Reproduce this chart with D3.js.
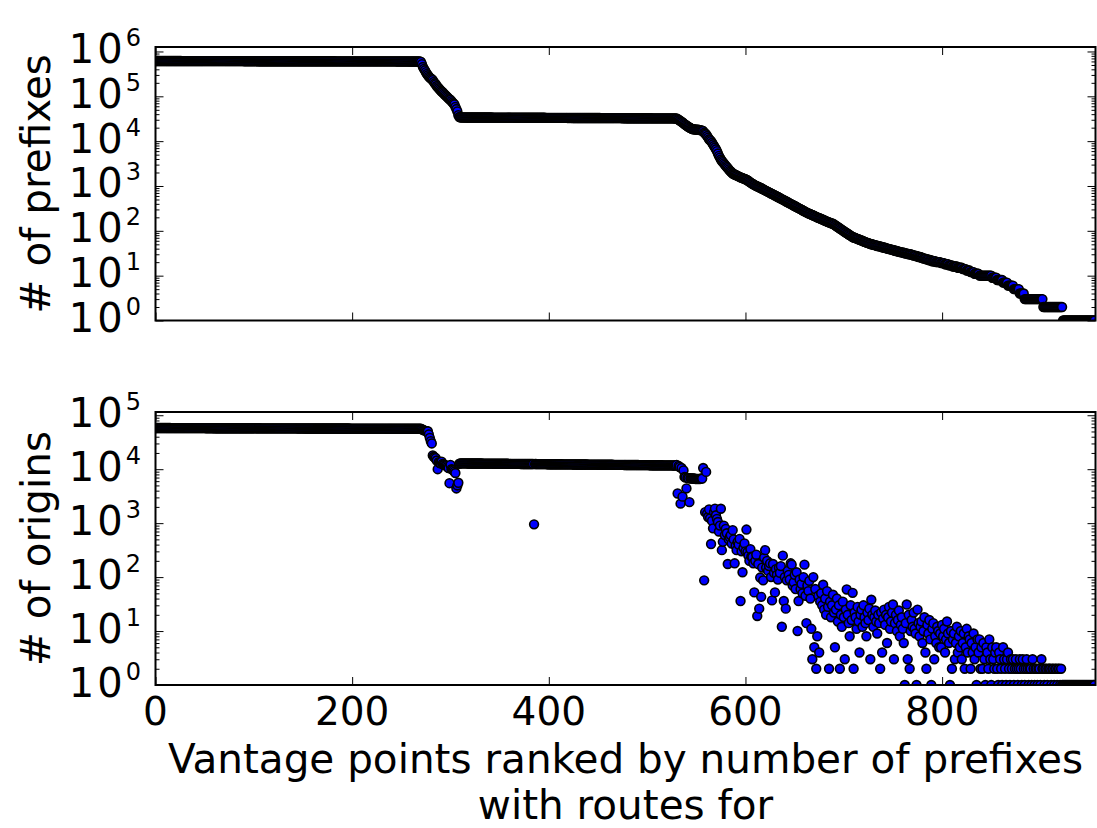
<!DOCTYPE html>
<html>
<head>
<meta charset="utf-8">
<script src="https://cdn.jsdelivr.net/npm/d3@7"></script>
<style>
  body { margin: 0; background: #fff; }
  text { font-family: "DejaVu Sans", sans-serif; fill: #000; }
</style>
</head>
<body>
<svg id="chart" width="1097" height="828"></svg>
<script>
// number of prefixes seen by each vantage point, in rank order
var prefixes = [
  612400,612380,612310,612260,612240,612150,612120,612040,612010,611930,
  611880,611850,611790,611720,611700,611640,611580,611550,611490,611420,
  611390,611330,611300,611240,611170,611150,611080,611040,610990,610920,
  610880,610850,610770,610740,610690,610630,610600,610520,610490,610430,
  610380,610340,610290,610230,610200,610130,610090,610040,609970,609930,
  609890,609820,609790,609730,609680,609640,609570,609540,609480,609430,
  609390,609330,609290,609220,609180,609140,609070,609030,608980,608920,
  608880,608830,608780,608720,608690,608630,608570,608540,608480,608430,
  608370,608340,608280,608230,608190,608130,608080,608040,607970,607930,
  607880,607820,607790,607730,607680,607630,607590,607530,607470,607440,
  607380,607330,607290,607220,607180,607130,607090,607020,606980,606930,
  606880,606830,606790,606720,606670,606640,606570,606530,606490,606420,
  606380,606330,606280,606230,606190,606120,606080,606030,605980,605930,
  605870,605840,605780,605730,605690,605620,605580,605530,605480,605440,
  605370,605330,605290,605220,605180,605130,605090,605020,604980,604930,
  604880,604830,604770,604730,604690,604620,604580,604530,604470,604430,
  604380,604320,604290,604230,604170,604130,604080,604030,603980,603920,
  603880,603830,603780,603720,603690,603630,603570,603530,603480,603420,
  603380,603330,603270,603230,603180,603120,603080,603030,602970,602930,
  602880,602820,602780,602730,602670,602630,602580,602520,602480,602430,
  602370,602330,602280,602220,602180,602130,602070,602030,601980,601920,
  601870,601830,601780,601720,601680,601620,601570,601530,601470,601420,
  601380,601320,601270,601230,601170,601120,601080,601020,600970,600930,
  600870,600820,600780,600720,600670,600630,600570,600520,600470,600420,
  600370,600320,600270,600220,600170,600130,600070,600020,599970,599920,
  599870,599820,599770,599720,599670,599620,599570,599520,599470,599420,
  599370,599320,599270,599220,599170,599100,599050,598960,598870,598700,
  586000,520000,450000,410000,380000,345000,316000,295000,275000,262000,
  251000,240000,229000,210000,195000,186000,170000,160000,151000,143000,
  135000,128000,123000,116000,110000,105000,100000,95000,90000,86000,
  83000,78000,73000,69000,66000,58000,52000,46000,38000,34500,
  33820,33810,33800,33790,33790,33780,33770,33760,33760,33750,
  33740,33730,33730,33720,33710,33700,33700,33690,33680,33670,
  33660,33660,33650,33640,33630,33630,33620,33610,33600,33590,
  33590,33580,33570,33560,33560,33550,33540,33530,33520,33520,
  33510,33500,33490,33490,33480,33470,33460,33450,33450,33440,
  33430,33420,33420,33410,33400,33390,33380,33380,33370,33360,
  33350,33350,33340,33330,33320,33310,33310,33300,33290,33280,
  33280,33270,33260,33250,33240,33240,33230,33220,33210,33210,
  33200,33190,33180,33170,33170,33160,33150,33140,33140,33130,
  33120,33110,33100,33100,33090,33080,33070,33070,33060,33050,
  33040,33030,33030,33020,33010,33000,33000,32990,32980,32970,
  32960,32960,32950,32940,32930,32930,32920,32910,32900,32890,
  32890,32880,32870,32860,32860,32850,32840,32830,32820,32820,
  32810,32800,32790,32790,32780,32770,32760,32750,32750,32740,
  32730,32720,32720,32710,32700,32690,32680,32680,32670,32660,
  32650,32650,32640,32630,32620,32610,32610,32600,32590,32580,
  32580,32570,32560,32550,32540,32540,32530,32520,32510,32510,
  32500,32490,32480,32470,32470,32460,32450,32440,32440,32430,
  32420,32410,32400,32400,32390,32380,32370,32370,32360,32350,
  32340,32330,32330,32320,32310,32300,32300,32290,32280,32270,
  32260,32260,32250,32240,32230,32230,32220,32210,32200,32190,
  32190,32180,32170,32160,32160,32150,32140,32130,32120,32100,
  32000,31000,30000,29000,28000,27000,26300,25000,24000,23000,
  22400,21500,20800,20200,19600,19000,18600,18400,18300,18200,
  18100,18000,17900,17800,17600,17400,17200,16800,15500,14800,
  14100,13000,12000,11000,10500,10000,9200,8500,7800,7200,
  6600,6000,5300,4700,4300,3900,3600,3400,3200,3000,
  2800,2650,2500,2350,2200,2100,2000,1900,
  1850,1800,1760,1720,1680,1640,1600,1560,1530,1500,1470,1440,
  1410,1380,1340,1290,1240,1200,1160,1120,1090,1060,1030,1000,
  980,960,935,910,890,865,845,820,800,780,760,740,720,700,680,665,650,635,615,600,
  584,568,553,538,524,510,496,483,470,457,445,433,421,410,399,388,378,
  368,358,348,339,330,321,312,304,296,288,280,272,265,258,251,245,240,
  235,230,225,220,215,210,205,200,196,192,188,184,
  180,176,172,168,164,160,157,154,151,148,146,144,
  139,134,130,125,121,117,113,109,105,102,98,95,92,89,86,83,80,78,75,73,
  71,70,69,67,66,65,63,62,61,60,58,57,56,55,54,53,52,51,50,50,49,48,48,47,
  46,46,45,45,44,43,43,42,42,41,40,40,39,39,38,38,
  37,37,36,36,35,35,34,34,33,33,33,32,32,31,31,
  31,30,30,30,29,29,28,28,28,27,27,26,26,26,25,25,24,
  24,24,23,23,23,22,22,22,21,21,21,21,20,20,20,20,20,
  19,19,19,19,18,18,18,18,17,17,17,17,16,16,16,16,16,15,15,15,
  15,15,14,14,14,14,13,13,13,13,12,12,12,12,11,11,11,11,11,10,10,10,10,10,
  10,10,10,10,10,10,10,10,9,9,9,9,9,
  8,8,8,8,8,8,7,7,7,7,7,
  6,6,6,6,6,6,5,5,5,5,
  5,5,4,4,4,4,4,
  3,3,3,3,3,3,3,3,3,3,3,3,3,3,3,3,3,3,3,
  2,2,2,2,2,2,2,2,2,2,2,2,2,2,2,2,2,2,2,2,
  1,1,1,1,1,1,1,1,1,1,1,1,1,1,1,1,1,1,1,1,1,1,1,1,1,1,1,1,1,1,1,1,1
];

// number of origin ASes seen by the same vantage points, same order
var origins = [
  57920,57910,57900,57900,57890,57880,57880,57870,57860,57860,
  57850,57840,57840,57830,57820,57820,57810,57800,57800,57790,
  57780,57780,57770,57760,57750,57750,57740,57730,57730,57720,
  57710,57710,57700,57690,57690,57680,57670,57670,57660,57650,
  57650,57640,57630,57630,57620,57610,57610,57600,57590,57590,
  57580,57570,57570,57560,57550,57550,57540,57530,57530,57520,
  57510,57510,57500,57490,57490,57480,57470,57470,57460,57450,
  57450,57440,57430,57430,57420,57410,57410,57400,57390,57390,
  57380,57370,57370,57360,57350,57350,57340,57330,57330,57320,
  57310,57310,57300,57290,57290,57280,57270,57270,57260,57250,
  57250,57240,57230,57230,57220,57210,57210,57200,57190,57190,
  57180,57170,57170,57160,57150,57150,57140,57130,57130,57120,
  57110,57110,57100,57090,57090,57080,57070,57070,57060,57050,
  57050,57040,57030,57030,57020,57010,57010,57000,56990,56990,
  56980,56970,56970,56960,56950,56950,56940,56930,56930,56920,
  56910,56910,56900,56890,56890,56880,56870,56870,56860,56850,
  56850,56840,56830,56830,56820,56810,56810,56800,56790,56790,
  56780,56770,56770,56760,56750,56750,56740,56730,56730,56720,
  56710,56710,56700,56690,56690,56680,56670,56670,56660,56650,
  56650,56640,56630,56630,56620,56610,56610,56600,56590,56590,
  56580,56570,56570,56560,56550,56550,56540,56530,56530,56520,
  56510,56510,56500,56490,56490,56480,56470,56470,56460,56450,
  56450,56440,56430,56430,56420,56410,56410,56400,56390,56390,
  56380,56370,56370,56360,56350,56350,56340,56330,56330,56320,
  56310,56310,56300,56290,56290,56280,56270,56270,56260,56250,
  56250,56240,56230,56230,56220,56210,56210,56200,56190,56190,
  56180,56170,56170,56160,56150,56150,56140,56130,56130,56120,
  56000,55000,53500,52500,51800,51200,50800,50500,44000,38000,
  33000,30000,18000,17000,16500,16000,14500,10000,13500,13000,
  12800,13800,12500,12200,12000,11800,11500,11000,10500,5500,
  12000,10000,9800,9500,9000,8500,4400,5000,5600,12600,
  12820,12810,12810,12800,12800,12790,12790,12780,12780,12770,
  12770,12760,12760,12750,12750,12740,12740,12730,12730,12720,
  12720,12710,12710,12700,12700,12690,12690,12680,12680,12670,
  12670,12660,12660,12650,12650,12640,12640,12630,12630,12620,
  12620,12610,12610,12600,12600,12590,12590,12580,12580,12570,
  12570,12560,12560,12550,12550,12540,12540,12530,12530,12520,
  12520,12510,12510,12500,12500,12490,12490,12480,12480,12470,
  12470,12460,12460,12450,12450,950,12440,12440,12430,12430,
  12420,12420,12410,12410,12400,12400,12390,12390,12380,12380,
  12370,12370,12360,12360,12350,12350,12340,12340,12330,12330,
  12320,12320,12310,12310,12300,12300,12290,12290,12280,12280,
  12270,12270,12260,12260,12250,12250,12240,12240,12230,12230,
  12220,12220,12210,12210,12200,12200,12190,12190,12180,12180,
  12170,12170,12160,12160,12150,12150,12140,12140,12130,12130,
  12120,12120,12110,12110,12100,12100,12090,12090,12080,12080,
  12070,12070,12060,12060,12050,12050,12040,12040,12030,12030,
  12020,12020,12010,12010,12000,12000,11990,11990,11980,11980,
  11970,11970,11960,11960,11950,11950,11940,11940,11930,11930,
  11920,11920,11910,11910,11900,11900,11890,11890,11880,11880,
  11870,11870,11860,11860,11850,11850,11840,11840,11830,11830,
  11820,11820,11810,11810,11800,11800,11790,11790,11780,11780,
  11770,11770,11760,11760,11750,11750,11740,11740,11730,11720,
  12000,3550,11500,11000,2300,10500,3100,9500,7200,7000,
  4400,6900,6800,2450,6800,6700,6700,6700,6700,6600,
  6600,6600,6600,6600,6600,6700,6700,10500,87,1600,
  8900,
  1500,1300,1800,1230,410,1100,800,1600,1860,1400,
  1200,1050,700,900,1850,316,450,900,600,780,
  650,175,500,550,600,420,740,500,180,380,
  316,450,400,510,36,300,123,350,420,300,
  760,290,250,200,330,240,235,180,52,200,
  260,19,175,26,98,43,150,87,230,316,
  150,200,130,160,180,100,37,175,120,52,
  140,110,90,150,120,160,12,250,36,100,
  26,87,130,110,90,180,170,70,80,110,
  60,123,10,36,90,60,75,50,100,170,
  45,14,70,55,85,40,11,3,100,5,
  60,2,8,45,4,35,50,30,72,25,
  40,20,55,28,2,35,18,30,47,22,
  5,25,40,15,30,2,20,12,35,18,
  3,25,59,20,14,8,30,16,51,2,
  22,18,11,28,15,4,20,25,12,30,
  18,14,8,22,16,26,3,38,20,12,
  18,24,15,9,20,14,2,22,4,17,
  25,13,20,6,18,28,11,15,22,31,
  3,14,20,10,16,24,8,13,18,11,
  6,1,14,31,3,20,2,10,16,12,
  22,11,9,1,25,14,8,12,15,6,
  10,18,4,2,13,9,16,7,1,11,
  14,3,8,6,12,10,5,9,5,13,
  8,11,4,7,15,9,6,1,10,2,
  7,9,3,6,12,4,8,5,10,3,
  6,9,2,5,11,4,8,7,2,6,
  4,9,3,5,1,7,4,7,2,5,
  2,6,3,1,5,4,2,7,3,1,
  5,3,2,4,5,2,1,4,3,2,
  1,5,3,2,1,3,4,2,1,3,
  2,3,1,2,3,2,1,2,3,2,
  1,3,2,1,2,3,2,1,2,2,
  1,3,2,1,2,2,1,2,2,1,
  3,2,2,1,2,2,1,2,2,2,
  1,2,2,1,2,2,1,2,2,1,
  2,1,1,1,1,1,1,1,1,1,
  1,1,1,1,1,1,1,1,1,1,
  1,1,1,1,1,1,1,1,1,1,
  1,1,1,1,1
];

var xTicks = [0, 200, 400, 600, 800];
var xMax = 956;
var topExps = [0, 1, 2, 3, 4, 5, 6];
var bottomExps = [0, 1, 2, 3, 4, 5];
var yLabels = ["# of prefixes", "# of origins"];
var xLabelLines = ["Vantage points ranked by number of prefixes", "with routes for"];

var svg = d3.select("#chart");
var left = 155.5, right = 1095.5;
var x = d3.scaleLinear().domain([0, xMax]).range([left, right]);

var panels = [
  {top: 47, bottom: 320.5, yMax: Math.pow(10, 6.1), data: prefixes, exps: topExps, label: yLabels[0], showX: false},
  {top: 412, bottom: 685, yMax: Math.pow(10, 5.06), data: origins, exps: bottomExps, label: yLabels[1], showX: true}
];

panels.forEach(function(p, pi){
  var y = d3.scaleLog().domain([1, p.yMax]).range([p.bottom, p.top]);
  var g = svg.append("g");

  var majors = p.exps.map(function(e){ return Math.pow(10, e); });
  var minors = [];
  p.exps.forEach(function(e){
    for (var m = 2; m < 10; m++) {
      var v = m * Math.pow(10, e);
      if (v <= p.yMax) minors.push(v);
    }
  });

  // clip so points at the edges get cut like in the original
  g.append("clipPath").attr("id", "clip" + pi)
    .append("rect")
    .attr("x", left).attr("y", p.top)
    .attr("width", right - left).attr("height", p.bottom - p.top);

  g.append("g").attr("clip-path", "url(#clip" + pi + ")")
    .selectAll("circle")
    .data(p.data)
    .enter()
    .append("circle")
    .attr("cx", function(d, i){ return x(i); })
    .attr("cy", function(d){ return y(d); })
    .attr("r", 4.4)
    .style("fill", "#0000ff")
    .style("stroke", "#000")
    .style("stroke-width", 1.6);

  // ticks point inward on all four sides
  function ticks(axis, tx, ty) {
    var a = g.append("g").attr("transform", "translate(" + tx + "," + ty + ")").call(axis);
    a.select(".domain").remove();
    a.selectAll("line").style("stroke", "#000").style("stroke-width", 1);
    a.selectAll("text").remove();
  }
  ticks(d3.axisLeft(y).tickValues(majors).tickSize(-8).tickSizeOuter(0), left, 0);
  ticks(d3.axisLeft(y).tickValues(minors).tickSize(-4).tickSizeOuter(0), left, 0);
  ticks(d3.axisRight(y).tickValues(majors).tickSize(-8).tickSizeOuter(0), right, 0);
  ticks(d3.axisRight(y).tickValues(minors).tickSize(-4).tickSizeOuter(0), right, 0);
  ticks(d3.axisBottom(x).tickValues(xTicks).tickSize(-8).tickSizeOuter(0), 0, p.bottom);
  ticks(d3.axisTop(x).tickValues(xTicks).tickSize(-8).tickSizeOuter(0), 0, p.top);

  g.append("rect")
    .attr("x", left).attr("y", p.top)
    .attr("width", right - left).attr("height", p.bottom - p.top)
    .style("fill", "none").style("stroke", "#000").style("stroke-width", 2);

  // 10^n tick labels
  g.selectAll(".ylab").data(majors).enter()
    .append("text")
    .attr("class", "ylab")
    .attr("x", 141)
    .attr("y", function(d){ return y(d) + 11.5; })
    .attr("text-anchor", "end")
    .style("font-size", "40px")
    .each(function(d){
      var t = d3.select(this);
      t.append("tspan").style("letter-spacing", "3px").text("10");
      t.append("tspan").attr("dy", -17).style("font-size", "24px").text(Math.round(Math.log10(d)));
    });

  g.append("text")
    .attr("transform", "translate(50," + ((p.top + p.bottom) / 2) + ") rotate(-90)")
    .attr("text-anchor", "middle")
    .style("font-size", "40.5px")
    .text(p.label);

  if (p.showX) {
    g.selectAll(".xlab").data(xTicks).enter()
      .append("text")
      .attr("x", function(d){ return x(d); })
      .attr("y", p.bottom + 40)
      .attr("text-anchor", "middle")
      .style("font-size", "39px")
      .text(function(d){ return d; });

    g.selectAll(".xtitle").data(xLabelLines).enter()
      .append("text")
      .attr("x", (left + right) / 2)
      .attr("y", function(d, i){ return 773 + i * 46; })
      .attr("text-anchor", "middle")
      .style("font-size", "40.5px")
      .text(function(d){ return d; });
  }
});
</script>
</body>
</html>
